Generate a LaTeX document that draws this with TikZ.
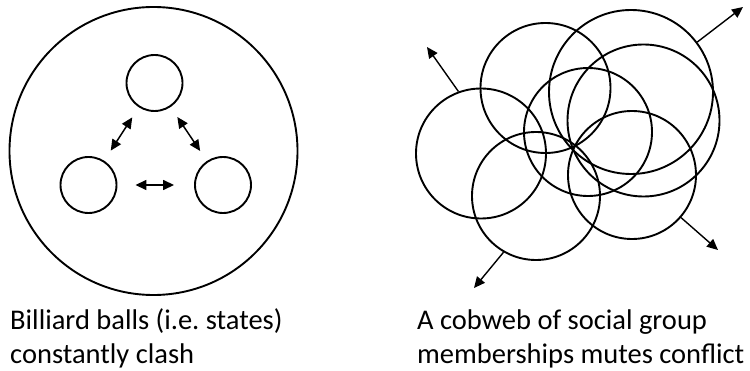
\documentclass[tikz,border=0pt]{standalone}
\usepackage{fontspec}
\setmainfont{Carlito}
\usetikzlibrary{arrows.meta}
\frenchspacing
\begin{document}
\begin{tikzpicture}[x=1pt,y=-1pt,
  ring/.style={draw, line width=1.9pt, circle, inner sep=0pt, minimum size=#1},
  clash/.style={{Triangle[length=11pt,width=10pt]}-{Triangle[length=11pt,width=10pt]}, line width=1.5pt},
  outarrow/.style={-{Triangle[length=11pt,width=10pt]}, line width=1.4pt},
  captext/.style={anchor=base west, inner sep=0pt, font=\fontsize{28.5}{34}\selectfont}]
\useasboundingbox (0,0) rectangle (750,371);
% left panel
\node[ring=288pt] (big) at (153.5,151) {};
\node[ring=56pt] (t) at (154.5,83) {};
\node[ring=56pt] (l) at (88.5,185) {};
\node[ring=56pt] (r) at (223,185) {};
\draw[clash, shorten <=12pt, shorten >=12pt] (t) -- (l);
\draw[clash, shorten <=12pt, shorten >=12pt] (t) -- (r);
\draw[clash, shorten <=18pt, shorten >=20pt] (l) -- (r);
% right panel
\node[ring=130pt] (A) at (481,153.5) {};
\node[ring=130pt] (B) at (545.5,88) {};
\node[ring=128pt] (C) at (536,196) {};
\node[ring=128pt] (D) at (588,132) {};
\node[ring=164pt] (E) at (631,92) {};
\node[ring=152pt] (F) at (643.5,120.5) {};
\node[ring=128pt] (G) at (632,175) {};
\coordinate (ul) at (427,47);
\coordinate (ur) at (743,7);
\coordinate (lr) at (718,250);
\coordinate (ll) at (474,288);
\draw[outarrow] (A.110) -- (ul);
\draw[outarrow] (E.37) -- (ur);
\draw[outarrow] (G.-41) -- (lr);
\draw[outarrow] (C.240) -- (ll);
% captions
\node[captext] (c1) at (10,329.5) {Billiard balls (i.e. states)};
\node[captext] (c2) at (10,363.5) {constantly clash};
\node[captext] (c3) at (417,329.5) {A cobweb of social group};
\node[captext] (c4) at (417,363.5) {memberships mutes conflict};
\end{tikzpicture}
\end{document}
